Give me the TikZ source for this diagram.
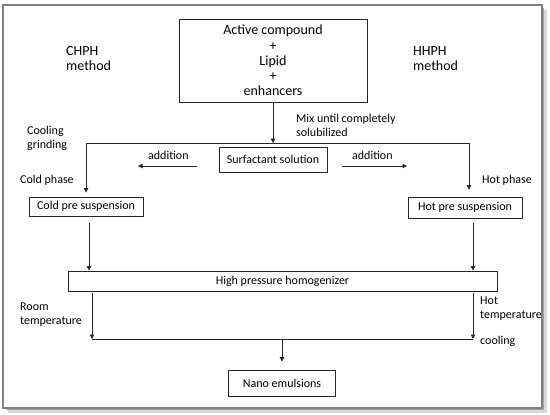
\documentclass[tikz,border=0pt]{standalone}
\usepackage{fontspec}
\setmainfont{Carlito}
\usetikzlibrary{arrows.meta}
\tikzset{
  box/.style={draw=black!85, line width=0.8pt, inner sep=0pt, align=center, font=\fontsize{12}{14}\selectfont},
  lbl/.style={inner sep=0pt, anchor=west, align=left, font=\fontsize{12}{14}\selectfont},
  biglbl/.style={inner sep=0pt, anchor=west, align=left, font=\fontsize{14}{15}\selectfont},
  conn/.style={draw=black!85, line width=0.8pt},
  arr/.style={conn, -{Triangle[width=4.5pt,length=4.5pt]}}
}
\begin{document}
\begin{tikzpicture}[x=1pt,y=-1pt]
\useasboundingbox (0,0) rectangle (550,415);
% frame with shadow
\draw[black!15, line width=3pt] (545.5,10) -- (545.5,411.5) -- (8,411.5);
\draw[black!35, line width=1.5pt] (543.5,8) -- (543.5,409.5) -- (6,409.5);
\draw[black!50, line width=1.2pt] (3,5) rectangle (542,408);

% boxes
\node[box, minimum width=188pt, minimum height=83pt, font=\fontsize{14}{15.3}\selectfont] (top) at (273,60.5) {Active compound\\+\\Lipid\\+\\enhancers};
\node[box, minimum width=108pt, minimum height=25pt] (surf) at (273,159.5) {Surfactant solution};
\node[box, minimum width=114pt, minimum height=19pt] (cold) at (86,206.5) {Cold pre suspension};
\node[box, minimum width=114pt, minimum height=21pt] (hot) at (465,207.5) {Hot pre suspension};
\node[box, minimum width=429pt, minimum height=20pt] (hph) at (282.5,281) {High pressure homogenizer};
\node[box, minimum width=107pt, minimum height=26pt] (nano) at (282,383) {Nano emulsions};

% labels
\node[biglbl] (chph) at (66,58.5) {CHPH\\method};
\node[biglbl] (hhph) at (413,58.5) {HHPH\\method};
\node[lbl] (mix) at (296,125.5) {Mix until completely\\solubilized};
\node[lbl] (coolgr) at (27,138) {Cooling\\grinding};
\node[lbl] (coldph) at (20,180) {Cold phase};
\node[lbl] (hotph) at (482,180) {Hot phase};
\node[lbl] (addl) at (148,155) {addition};
\node[lbl] (addr) at (352,155) {addition};
\node[lbl] (room) at (20,315) {Room\\temperature};
\node[lbl] (hottemp) at (480,309) {Hot\\temperature};
\node[lbl] (cooling) at (480,341) {cooling};

% junction coordinates
\coordinate (j1) at (273,143);
\coordinate (lj) at (86,143);
\coordinate (rj) at (469,143);
\coordinate (aL1) at (197,166);
\coordinate (aL2) at (138,166);
\coordinate (aR1) at (342,166);
\coordinate (aR2) at (407,166);
\coordinate (lb) at (92,339);
\coordinate (rb) at (473,339);
\coordinate (mb) at (282,339);

% connectors
\draw[arr] (top.south) -- (j1);
\draw[conn] (lj) -- (rj);
\draw[arr, shorten >=4pt] (lj) -- (cold.north);
\draw[arr, shorten >=7pt] (rj) -- (rj |- hot.north);
\draw[arr] (aL1) -- (aL2);
\draw[arr] (aR1) -- (aR2);
\draw[arr, shorten <=7pt] ([xshift=3pt]cold.south) -- ([xshift=3pt]cold.south |- hph.north);
\draw[arr, shorten <=5pt] ([xshift=8pt]hot.south) -- ([xshift=8pt]hot.south |- hph.north);
\draw[arr, shorten <=2pt] (hph.south -| lb) -- (lb);
\draw[arr, shorten <=2pt] (hph.south -| rb) -- (rb);
\draw[conn] (lb) -- (rb);
\draw[arr, shorten >=8pt] (mb) -- (nano.north);
\end{tikzpicture}
\end{document}
